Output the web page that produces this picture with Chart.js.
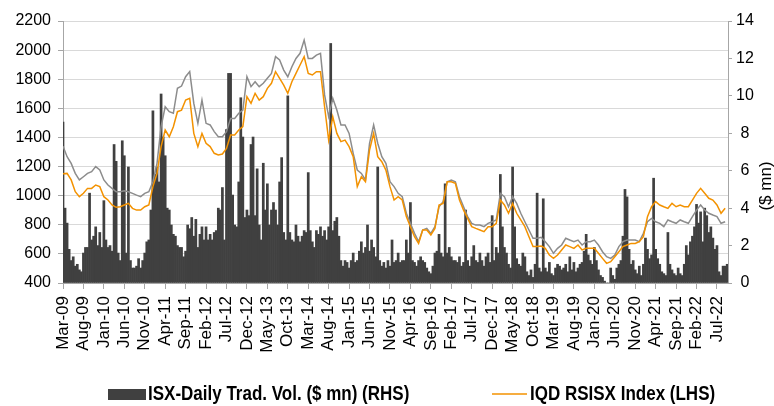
<!DOCTYPE html>
<html lang="en">
<head>
    <meta charset="UTF-8">
    <title>ISX Daily Trading Volume vs RSISX Index</title>
    <script src="https://cdn.jsdelivr.net/npm/chart.js"></script>
    <style>
        body {
            margin: 0;
            background-color: #fff;
        }

        #chart {
            display: block;
        }
    </style>
</head>
<body>
    <canvas id="chart" width="774" height="406"></canvas>

    <script>
        // x ticks every 5 months, starting Mar-09 (month 0)
        const tickLabels = ['Mar-09', 'Aug-09', 'Jan-10', 'Jun-10', 'Nov-10', 'Apr-11', 'Sep-11', 'Feb-12',
            'Jul-12', 'Dec-12', 'May-13', 'Oct-13', 'Mar-14', 'Aug-14', 'Jan-15', 'Jun-15', 'Nov-15',
            'Apr-16', 'Sep-16', 'Feb-17', 'Jul-17', 'Dec-17', 'May-18', 'Oct-18', 'Mar-19', 'Aug-19',
            'Jan-20', 'Jun-20', 'Nov-20', 'Apr-21', 'Sep-21', 'Feb-22', 'Jul-22'];

        // daily trading volume ($ mn), sampled every half month from Mar-09
        const volume = [
            8.6, 4.0, 3.2, 1.8, 1.2, 1.4, 0.9, 1.0, 0.7, 0.6,
            1.6, 1.9, 1.9, 4.8, 2.3, 2.5, 3.0, 2.0, 2.7, 1.9,
            4.4, 2.3, 1.9, 2.0, 1.7, 7.4, 6.5, 1.6, 1.2, 7.6,
            6.8, 1.6, 6.2, 1.2, 0.8, 0.8, 0.9, 1.3, 0.8, 1.2,
            1.6, 2.2, 2.3, 3.9, 9.2, 5.8, 6.2, 5.4, 10.1, 7.8,
            6.8, 4.0, 3.9, 3.1, 2.6, 2.5, 2.0, 1.9, 1.9, 1.4,
            1.7, 3.1, 2.9, 3.5, 2.5, 3.4, 1.9, 2.6, 3.0, 2.3,
            3.0, 2.3, 2.6, 2.3, 2.7, 2.8, 4.0, 3.9, 5.1, 2.3,
            8.2, 11.2, 11.2, 4.7, 3.1, 3.0, 5.4, 9.9, 7.8, 3.5,
            3.9, 3.6, 7.4, 7.8, 3.6, 6.1, 3.1, 2.3, 6.4, 3.9,
            5.3, 3.1, 3.9, 4.3, 3.9, 3.1, 5.4, 6.7, 2.7, 2.3,
            10.0, 2.7, 2.3, 2.2, 3.1, 2.5, 2.2, 2.5, 2.8, 2.7,
            5.9, 2.8, 2.2, 1.9, 2.8, 2.6, 3.0, 2.5, 2.8, 2.3,
            3.0, 12.8, 2.8, 3.3, 3.5, 2.5, 1.2, 0.9, 1.2, 1.1,
            0.8, 1.2, 1.6, 1.1, 1.2, 1.7, 2.2, 1.6, 1.9, 3.1,
            1.7, 2.3, 1.9, 1.4, 6.2, 1.2, 0.9, 1.1, 0.8, 1.2,
            0.9, 2.3, 1.1, 1.2, 1.6, 1.1, 1.2, 1.2, 2.3, 1.6,
            4.3, 1.2, 1.1, 0.9, 1.2, 1.4, 1.2, 1.1, 0.8, 0.6,
            0.5, 0.9, 1.6, 1.7, 2.6, 1.6, 1.4, 5.3, 1.6, 1.9,
            1.4, 1.2, 1.2, 1.1, 1.4, 0.9, 1.1, 3.9, 1.2, 0.9,
            1.4, 2.0, 1.2, 1.1, 1.6, 1.2, 0.9, 1.4, 1.6, 1.1,
            3.6, 1.2, 1.9, 1.6, 5.8, 3.0, 1.9, 1.6, 1.0, 0.8,
            6.2, 3.0, 1.3, 1.0, 0.9, 1.6, 1.4, 0.6, 0.4, 0.7,
            0.3, 1.0, 4.8, 0.8, 0.6, 4.5, 0.8, 0.6, 1.1, 0.5,
            0.4, 0.8, 1.0, 0.9, 0.7, 0.8, 1.0, 0.6, 1.4, 0.7,
            1.1, 0.6, 0.8, 1.0, 1.1, 1.7, 2.6, 1.5, 1.2, 1.0,
            1.9, 1.2, 0.7, 0.4, 0.3, 0.1, 0.0, 0.0, 0.8, 0.4,
            0.2, 0.8, 1.0, 1.2, 2.5, 5.0, 4.6, 1.8, 1.0, 1.2,
            0.7, 0.5, 0.9, 0.4, 1.0, 2.4, 1.8, 1.3, 1.5, 5.6,
            1.8, 1.3, 1.0, 0.6, 0.5, 0.4, 2.7, 1.0, 0.7, 0.5,
            0.4, 0.8, 0.5, 0.4, 1.0, 2.0, 1.5, 2.2, 2.5, 3.0,
            4.2, 3.2, 3.8, 2.2, 4.0, 3.6, 2.7, 3.0, 2.4, 1.8,
            2.0, 0.6, 0.4, 0.9, 0.9, 1.0
        ];

        // IQD RSISX index, monthly from Mar-09
        const iqdIndex = [
            1150, 1153, 1108, 1027, 993, 1016, 1050, 1050, 1073, 1062,
            993, 970, 936, 920, 924, 936, 947, 913, 901, 901,
            924, 936, 1062, 1153, 1337, 1451, 1405, 1474, 1577, 1588,
            1657, 1669, 1428, 1337, 1428, 1360, 1337, 1291, 1279, 1286,
            1325, 1417, 1417, 1451, 1474, 1680, 1634, 1703, 1657, 1680,
            1737, 1772, 1852, 1806, 1760, 1703, 1783, 1840, 1898, 1955,
            1840, 1829, 1852, 1852, 1611, 1382, 1543, 1428, 1371, 1382,
            1337, 1268, 1062, 1130, 1096, 1314, 1428, 1268, 1233, 1176,
            1062, 970, 993, 970, 856, 787, 718, 672, 764, 764,
            730, 775, 936, 947, 1096, 1096, 1085, 970, 901, 844,
            787, 775, 764, 753, 787, 787, 810, 970, 936, 879,
            947, 879, 833, 787, 718, 650, 650, 654, 638, 592,
            569, 592, 627, 661, 650, 638, 661, 627, 638, 638,
            638, 604, 569, 535, 547, 581, 615, 650, 661, 672,
            672, 684, 718, 856, 924, 959, 936, 924, 913, 947,
            924, 936, 924, 924, 970, 1016, 1050, 1016, 982, 970,
            936, 879, 913
        ];

        // second (grey) index series, monthly from Mar-09
        const usdIndex = [
            1340, 1268, 1222, 1153, 1108, 1130, 1153, 1165, 1200, 1176,
            1108, 1073, 1050, 1027, 1027, 1034, 1027, 1016, 1004, 993,
            1016, 1027, 1096, 1222, 1474, 1611, 1577, 1566, 1738, 1753,
            1817, 1852, 1634, 1497, 1657, 1497, 1486, 1440, 1405, 1405,
            1440, 1531, 1531, 1566, 1588, 1817, 1749, 1783, 1749, 1772,
            1806, 1840, 1955, 1932, 1863, 1817, 1886, 1943, 1978, 2069,
            1943, 1943, 1966, 1978, 1692, 1543, 1669, 1588, 1486, 1486,
            1428, 1291, 1176, 1153, 1108, 1360, 1486, 1360, 1268, 1222,
            1096, 1062, 1016, 993, 879, 810, 741, 684, 764, 775,
            741, 787, 924, 959, 1096, 1108, 1096, 993, 924, 856,
            810, 798, 798, 787, 810, 821, 833, 1016, 993, 924,
            993, 947, 879, 821, 764, 707, 707, 714, 684, 650,
            604, 638, 661, 707, 695, 684, 695, 661, 684, 684,
            695, 661, 615, 581, 569, 592, 650, 684, 695, 695,
            695, 684, 741, 821, 844, 821, 810, 787, 833, 821,
            810, 833, 821, 810, 856, 901, 936, 901, 879, 867,
            856, 810, 821
        ];

        const axisColor = '#a6a6a6';
        const gridColor = '#d9d9d9';

        Chart.defaults.font.family = '"Liberation Sans", Arial, sans-serif';
        Chart.defaults.font.size = 16;
        Chart.defaults.color = '#000';

        // legend and right axis title drawn on the canvas
        const bottomLegend = {
            id: 'bottomLegend',
            afterDraw(chart) {
                const ctx = chart.ctx;
                const bars = chart.data.datasets[0];
                const line = chart.data.datasets[2];
                ctx.save();
                ctx.fillStyle = bars.backgroundColor;
                ctx.fillRect(108, 389, 38, 11);
                ctx.strokeStyle = line.borderColor;
                ctx.lineWidth = 1.5;
                ctx.beginPath();
                ctx.moveTo(492, 394);
                ctx.lineTo(527, 394);
                ctx.stroke();

                // condensed bold text, like the original's narrow font
                ctx.font = 'bold 20px "Liberation Sans", Arial, sans-serif';
                ctx.textBaseline = 'middle';
                ctx.fillStyle = '#000';
                ctx.save();
                ctx.translate(148, 394);
                ctx.scale(0.85, 1);
                ctx.fillText(bars.label, 0, 0);
                ctx.restore();
                ctx.save();
                ctx.translate(530, 394);
                ctx.scale(0.85, 1);
                ctx.fillText(line.label, 0, 0);
                ctx.restore();

                ctx.font = '17px "Liberation Sans", Arial, sans-serif';
                ctx.textAlign = 'center';
                ctx.translate(766, 186);
                ctx.rotate(-Math.PI / 2);
                ctx.fillText('($ mn)', 0, 0);
                ctx.restore();
            }
        };

        const ctx = document.getElementById('chart').getContext('2d');
        const chart = new Chart(ctx, {
            type: 'bar',
            data: {
                datasets: [
                    {
                        label: 'ISX-Daily Trad. Vol. ($ mn) (RHS)',
                        data: volume.map((v, i) => ({ x: i / 2, y: v })),
                        backgroundColor: '#404040',
                        borderWidth: 0,
                        barPercentage: 1,
                        categoryPercentage: 1,
                        yAxisID: 'y1',
                        order: 2
                    },
                    {
                        type: 'line',
                        label: 'USD RSISX Index (LHS)',
                        data: usdIndex.map((v, i) => ({ x: i, y: v })),
                        borderColor: '#8c8c8c',
                        borderWidth: 1.5,
                        pointRadius: 0,
                        tension: 0,
                        yAxisID: 'y',
                        order: 1
                    },
                    {
                        type: 'line',
                        label: 'IQD RSISX Index (LHS)',
                        data: iqdIndex.map((v, i) => ({ x: i, y: v })),
                        borderColor: '#f39200',
                        borderWidth: 1.5,
                        pointRadius: 0,
                        tension: 0,
                        yAxisID: 'y',
                        order: 0
                    }
                ]
            },
            options: {
                responsive: false,
                animation: false,
                devicePixelRatio: 1,
                layout: { padding: { top: 21, left: 0, right: 0, bottom: 0 } },
                plugins: {
                    legend: { display: false },
                    tooltip: { enabled: false }
                },
                scales: {
                    x: {
                        type: 'linear',
                        min: 0,
                        max: 162.7,
                        offset: false,
                        afterBuildTicks: (scale) => {
                            scale.ticks = tickLabels.map((t, i) => ({ value: i * 5 }));
                        },
                        afterFit: (scale) => { scale.height = 123; },
                        ticks: {
                            autoSkip: false,
                            minRotation: 90,
                            maxRotation: 90,
                            padding: 7,
                            font: { size: 17 },
                            callback: (value) => tickLabels[Math.round(value / 5)]
                        },
                        grid: {
                            offset: false,
                            drawOnChartArea: false,
                            tickLength: 6,
                            tickColor: axisColor
                        },
                        border: { color: axisColor }
                    },
                    y: {
                        position: 'left',
                        min: 400,
                        max: 2200,
                        afterFit: (scale) => { scale.width = 63; },
                        ticks: { stepSize: 200, padding: 7, callback: (value) => String(value) },
                        grid: { color: gridColor, tickLength: 5, tickColor: axisColor },
                        border: { color: axisColor }
                    },
                    y1: {
                        position: 'right',
                        min: 0,
                        max: 14,
                        afterFit: (scale) => { scale.width = 46; },
                        ticks: { stepSize: 2, padding: 4, crossAlign: 'center' },
                        grid: { drawOnChartArea: false, tickLength: 4, tickColor: axisColor },
                        border: { color: axisColor }
                    }
                }
            },
            plugins: [bottomLegend]
        });
    </script>
</body>
</html>
